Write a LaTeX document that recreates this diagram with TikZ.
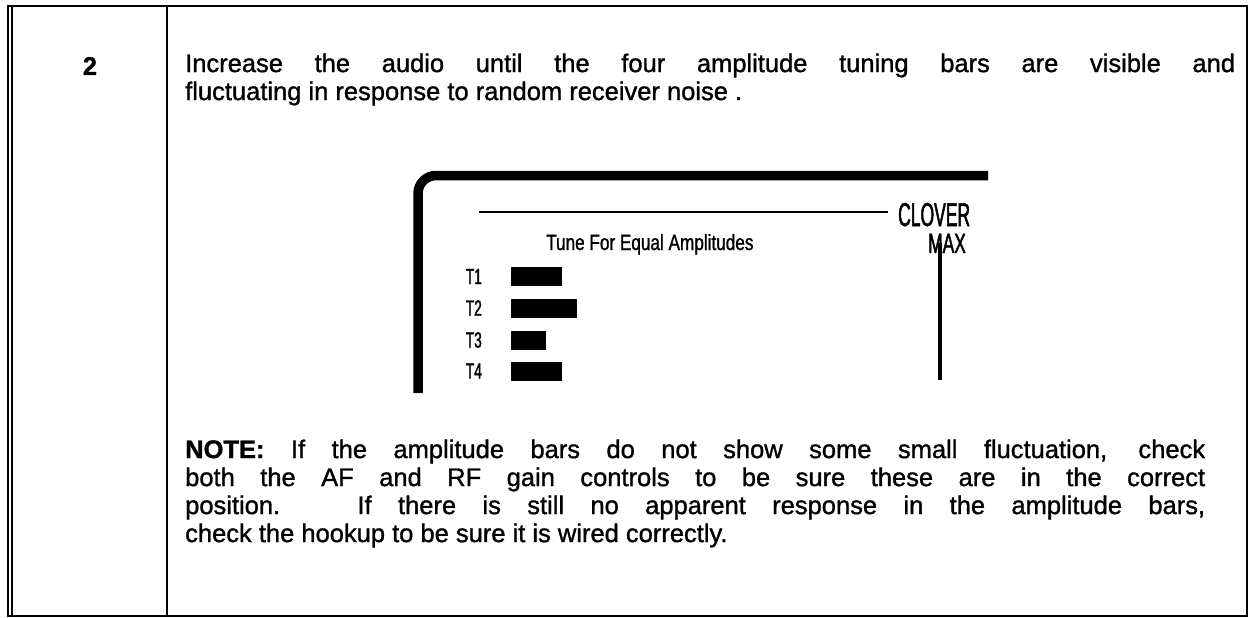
\documentclass[tikz,border=0pt]{standalone}
\usepackage{fontspec}
\setmainfont[FakeBold=1.2]{Liberation Sans}
\newfontfamily\dialfont[FakeStretch=0.62, FakeBold=1.5]{Liberation Sans}
\newfontfamily\cloverfont[FakeStretch=0.53, FakeBold=1.5]{Liberation Sans}
\newfontfamily\tunefont[FakeStretch=0.78, FakeBold=1.2]{Liberation Sans}
\usepackage{tikz}
\usetikzlibrary{positioning}
\tikzset{>=latex}

\begin{document}
\begin{tikzpicture}[x=1pt, y=-1pt,
    every node/.style = {inner sep=0pt},
    rule/.style = {line width=1.6pt},
    para/.style = {anchor=north west, align=justify, font=\fontsize{25.5}{28}\selectfont},
    bar/.style = {fill=black, minimum height=19pt, anchor=west},
    tlabel/.style = {font=\dialfont\fontsize{22}{22}\selectfont}]
  \useasboundingbox (0,0) rectangle (1253,618);

  % table frame
  \coordinate (tl) at (8,6);
  \coordinate (br) at (1247,616);
  \draw[rule] (tl) rectangle (br);
  \draw[rule] (12,6) -- (12,616);
  \draw[rule] (167,6) -- (167,616);

  \node[font=\bfseries\fontsize{25.5}{28}\selectfont] (num) at (90,66) {2};

  \node[para, text width=1050pt] (step) at (185,53.4)
    {Increase the audio until the four amplitude tuning bars are visible and\linebreak
     fluctuating in response to random receiver noise .};

  % display panel
  \draw[line width=9.5pt, rounded corners=18pt] (418,393) -- (418,175.5) -- (988,175.5);

  \node[font=\tunefont\fontsize{22}{22}\selectfont, anchor=base west] (tune) at (546,250)
    {Tune For Equal Amplitudes};
  \node[font=\cloverfont\fontsize{33}{33}\selectfont, anchor=base west] (clover) at (898,226) {CLOVER};
  \node[font=\dialfont\fontsize{28}{28}\selectfont, anchor=base west] (max) at (928,253) {MAX};

  \coordinate (dial) at (479,212);
  \draw[line width=2.5pt, shorten >=10pt] (dial) -- (dial -| clover.west);
  \coordinate (ptr) at (940,380);
  \draw[line width=4pt] (ptr |- max.center) -- (ptr);

  \foreach \n/\w/\y in {1/51/276.5, 2/66/308, 3/35/340, 4/51/371} {
    \node[bar, minimum width=\w pt] (b\n) at (511,\y) {};
    \node[tlabel, left=29pt of b\n.west] (t\n) {T\n};
  }

  \node[para, text width=1020pt] (note) at (185,439.4)
    {\textbf{NOTE:} If the amplitude bars do not show some small fluctuation, check\linebreak
     both the AF and RF gain controls to be sure these are in the correct\linebreak
     position.\hspace{10pt} If there is still no apparent response in the amplitude bars,\linebreak
     check the hookup to be sure it is wired correctly.};
\end{tikzpicture}
\end{document}
